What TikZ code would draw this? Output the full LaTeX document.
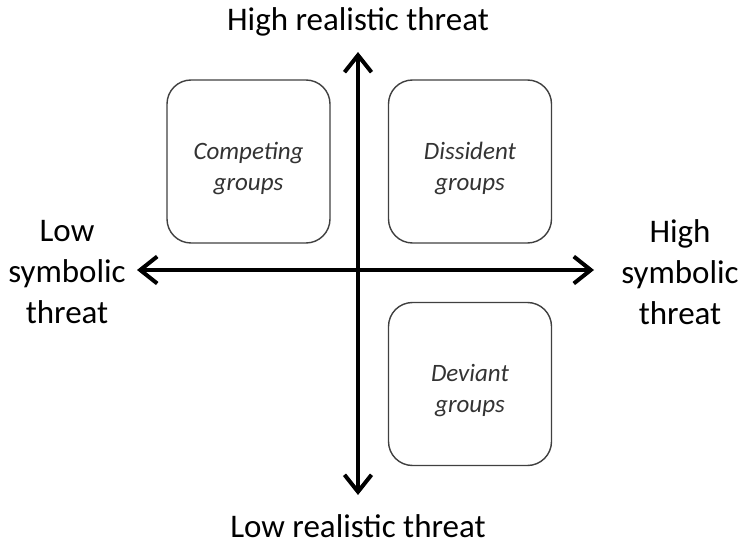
\documentclass[tikz,border=0pt]{standalone}
\usepackage{fontspec}
\setmainfont{Carlito}
\usetikzlibrary{arrows.meta}

\newcommand{\grouptext}[1]{\begin{tabular}{@{}c@{}}\rule{0pt}{36pt}#1\end{tabular}}

\tikzset{
  axis/.style={line width=4pt, {Straight Barb[length=17pt,width=27pt]}-{Straight Barb[length=17pt,width=27pt]}},
  label/.style={font=\fontsize{33}{41}\selectfont, align=center, text=black},
  group/.style={draw=black!75, line width=1.4pt, rounded corners=24pt, minimum width=163pt, minimum height=163pt, font=\fontsize{25}{31}\selectfont\itshape, text=black!80}
}

\begin{document}
\begin{tikzpicture}[x=1pt,y=-1pt]
  \useasboundingbox (0,0) rectangle (742,548);

  \node[label] (top) at (358,22) {High realistic threat};
  \node[label] (bottom) at (358,526) {Low realistic threat};
  \node[label] (left) at (67,272) {Low\\symbolic\\threat};
  \node[label] (right) at (680,272) {High\\symbolic\\threat};

  \coordinate (n) at (358,52);
  \coordinate (s) at (358,495);
  \coordinate (w) at (137,270);
  \coordinate (e) at (594,270);

  \draw[axis] (s) -- (n);
  \draw[axis] (w) -- (e);

  \node[group] (competing) at (248.5,161.5) {\grouptext{Competing\\groups}};
  \node[group] (dissident) at (470,161.5) {\grouptext{Dissident\\groups}};
  \node[group] (deviant) at (470,384) {\grouptext{Deviant\\groups}};
\end{tikzpicture}
\end{document}
